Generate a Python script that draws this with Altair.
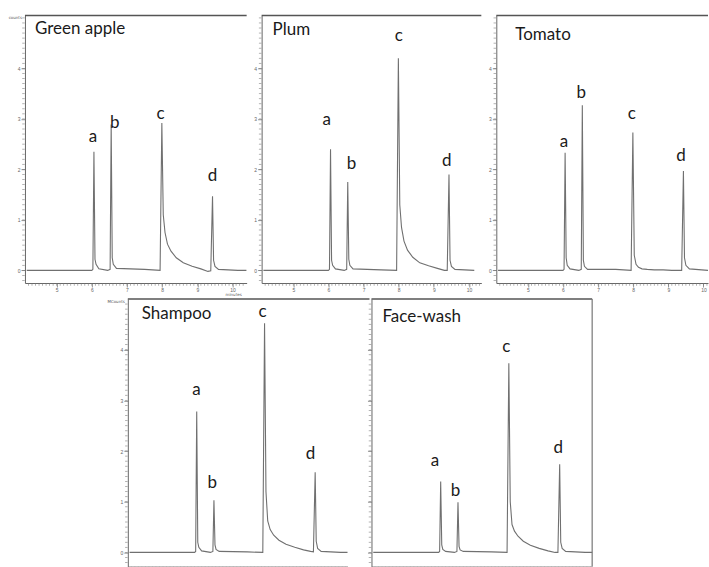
import altair as alt
import pandas as pd

# retention time grid (minutes)
TIME = [4.15, 6.00, 6.03, 6.06, 6.09, 6.12, 6.20, 6.45, 6.52, 6.55, 6.58, 6.61, 6.70,
        7.50, 7.94, 7.99, 8.03, 8.08, 8.15, 8.25, 8.40, 8.60, 8.85, 9.10, 9.30, 9.38,
        9.43, 9.46, 9.50, 9.60, 10.15, 10.40]

# signal (MCounts) per sample
GREEN_APPLE = [0, 0, 0.02, 2.35, 0.22, 0.12, 0.03, 0.0, 0.02, 2.89, 0.25, 0.12, 0.04,
               0.02, 0.0, 2.92, 1.10, 0.75, 0.52, 0.38, 0.25, 0.15, 0.08, 0.03, -0.02, -0.01,
               1.47, 0.20, 0.08, 0.02, 0.0, 0.0]
PLUM = [0, 0, 0.02, 2.40, 0.20, 0.10, 0.03, 0.0, 0.02, 1.75, 0.22, 0.10, 0.03,
        0.01, 0.0, 4.20, 1.30, 0.85, 0.58, 0.40, 0.26, 0.15, 0.09, 0.04, 0.0, 0.0,
        1.90, 0.20, 0.08, 0.02, 0.0, None]
TOMATO = [0, 0, 0.02, 2.33, 0.25, 0.10, 0.03, 0.0, 0.02, 3.27, 0.20, 0.08, 0.02,
          0.02, 0.0, 2.73, 0.30, 0.12, 0.06, 0.03, 0.02, 0.01, 0.01, 0.0, 0.0, 0.0,
          1.97, 0.25, 0.10, 0.03, 0.0, None]
SHAMPOO = [0, 0, 0.02, 2.78, 0.20, 0.10, 0.03, 0.0, 0.02, 1.03, 0.15, 0.06, 0.02,
           0.01, 0.0, 4.52, 1.20, 0.62, 0.45, 0.34, 0.24, 0.16, 0.10, 0.05, 0.02, 0.01,
           1.58, 0.22, 0.08, 0.02, 0.0, 0.0]
FACE_WASH = [0, 0, 0.02, 1.40, 0.15, 0.06, 0.02, 0.0, 0.02, 0.99, 0.12, 0.05, 0.02,
             0.01, 0.0, 3.73, 1.00, 0.55, 0.42, 0.32, 0.22, 0.14, 0.08, 0.03, 0.0, 0.0,
             1.74, 0.20, 0.08, 0.02, 0.0, 0.0]

PEAK_LABELS = ["a", "b", "c", "d"]
GA_LAB_T, GA_LAB_Y = [6.03, 6.65, 7.95, 9.43], [2.64, 2.92, 3.10, 1.86]
PL_LAB_T, PL_LAB_Y = [5.95, 6.66, 8.00, 9.37], [2.97, 2.11, 4.65, 2.16]
TO_LAB_T, TO_LAB_Y = [6.03, 6.52, 7.96, 9.36], [2.54, 3.51, 3.10, 2.26]
SH_LAB_T, SH_LAB_Y = [6.05, 6.50, 7.93, 9.30], [3.21, 1.37, 4.74, 1.95]
FW_LAB_T, FW_LAB_Y = [5.90, 6.48, 7.92, 9.39], [1.80, 1.22, 4.06, 2.06]

X_MAJOR = [5, 6, 7, 8, 9, 10]
Y_MAJOR = [0, 1, 2, 3, 4]
X_MINOR = [round(4.2 + 0.1 * i, 1) for i in range(62)]
Y_MINOR = [round(-0.2 + 0.1 * i, 1) for i in range(53)]

FONT = "Lato"
H = 268


def axis(values, show_labels=True):
    return alt.Axis(
        values=values, labels=show_labels, format="d", tickSize=4,
        labelFontSize=5, labelColor="#666", labelPadding=1,
        labelFlush=False, labelBound=False,
        domainColor="#666", tickColor="#777", tickWidth=0.8,
        grid=False, title=None,
    )


def panel(name, signal, lab_t, lab_y, w, xmax, ymin, ymax, tdx, tdy,
          show_ylabels=True, right_border=False, top_extend=0,
          unit_text=None, time_text=None):
    df = pd.DataFrame({"t": TIME, "s": signal})
    xs = alt.Scale(domain=[4.1, xmax], nice=False, zero=False)
    ys = alt.Scale(domain=[ymin, ymax], nice=False, zero=False)
    line = alt.Chart(df).mark_line(color="#707070", strokeWidth=1.1, clip=True).encode(
        x=alt.X("t:Q", scale=xs, axis=axis(X_MAJOR)),
        y=alt.Y("s:Q", scale=ys, axis=axis(Y_MAJOR, show_ylabels)),
    )
    xm = [v for v in X_MINOR if v < xmax]
    xminor = alt.Chart(pd.DataFrame({"v": xm})).mark_tick(
        color="#777", thickness=0.8, size=2.5, orient="vertical"
    ).encode(x=alt.X("v:Q"), y=alt.value(H + 1.5))
    yminor = alt.Chart(pd.DataFrame({"v": [v for v in Y_MINOR if v < ymax]})).mark_tick(
        color="#777", thickness=0.8, size=2.5, orient="horizontal"
    ).encode(y=alt.Y("v:Q"), x=alt.value(-1.5))
    labs = alt.Chart(pd.DataFrame({"t": lab_t, "y": lab_y, "lab": PEAK_LABELS})).mark_text(
        font=FONT, fontSize=17, color="#1a1a1a", align="center", baseline="middle"
    ).encode(x="t:Q", y="y:Q", text="lab:N")
    title = alt.Chart(pd.DataFrame({"n": [name]})).mark_text(
        font=FONT, fontSize=17, color="#1a1a1a", align="left", baseline="middle"
    ).encode(x=alt.value(tdx), y=alt.value(tdy), text="n:N")
    top = alt.Chart(pd.DataFrame({"z": [0]})).mark_rule(color="#555", strokeWidth=1.5).encode(
        x=alt.value(0), x2=alt.value(w + top_extend), y=alt.value(0)
    )
    layers = [line, xminor, yminor, labs, title, top]
    if right_border:
        layers.append(alt.Chart(pd.DataFrame({"z": [0]})).mark_rule(color="#777", strokeWidth=1.2).encode(
            x=alt.value(w), y=alt.value(0), y2=alt.value(H)))
    if unit_text:
        layers.append(alt.Chart(pd.DataFrame({"n": [unit_text]})).mark_text(
            fontSize=4, color="#555", align="right", baseline="top", font="DejaVu Sans"
        ).encode(x=alt.value(-3), y=alt.value(1), text="n:N"))
    if time_text:
        layers.append(alt.Chart(pd.DataFrame({"n": [time_text]})).mark_text(
            fontSize=4, color="#555", align="center", baseline="top", font="DejaVu Sans"
        ).encode(x=alt.value(w - 13), y=alt.value(H + 10.5), text="n:N"))
    return alt.layer(*layers).properties(width=w, height=H)


ga = panel("Green apple", GREEN_APPLE, GA_LAB_T, GA_LAB_Y, 222, 10.4, -0.25, 5.05, 10, 14,
           unit_text="counts", time_text="minutes")
pl = panel("Plum", PLUM, PL_LAB_T, PL_LAB_Y, 220, 10.35, -0.25, 5.05, 11, 15)
to = panel("Tomato", TOMATO, TO_LAB_T, TO_LAB_Y, 212, 10.13, -0.25, 5.05, 19, 20)
sh = panel("Shampoo", SHAMPOO, SH_LAB_T, SH_LAB_Y, 220, 10.35, -0.28, 5.0, 14, 15, top_extend=22,
           unit_text="MCounts")
fw = panel("Face-wash", FACE_WASH, FW_LAB_T, FW_LAB_Y, 221, 10.35, -0.28, 5.0, 11, 18,
           show_ylabels=False, right_border=True)

spacer = alt.Chart(pd.DataFrame({"z": [0]})).mark_point(opacity=0).properties(width=79, height=H)

top_row = alt.hconcat(ga, pl, to, spacing=15, bounds="flush")
bottom_row = alt.hconcat(spacer, sh, fw, spacing=24, bounds="flush")

chart = alt.vconcat(top_row, bottom_row, spacing=0).properties(
    padding={"left": 8, "top": 14, "right": 0, "bottom": 0},
    background="white",
).configure_view(stroke=None)

chart.save("out.html", embed_options={"renderer": "svg", "actions": False})
